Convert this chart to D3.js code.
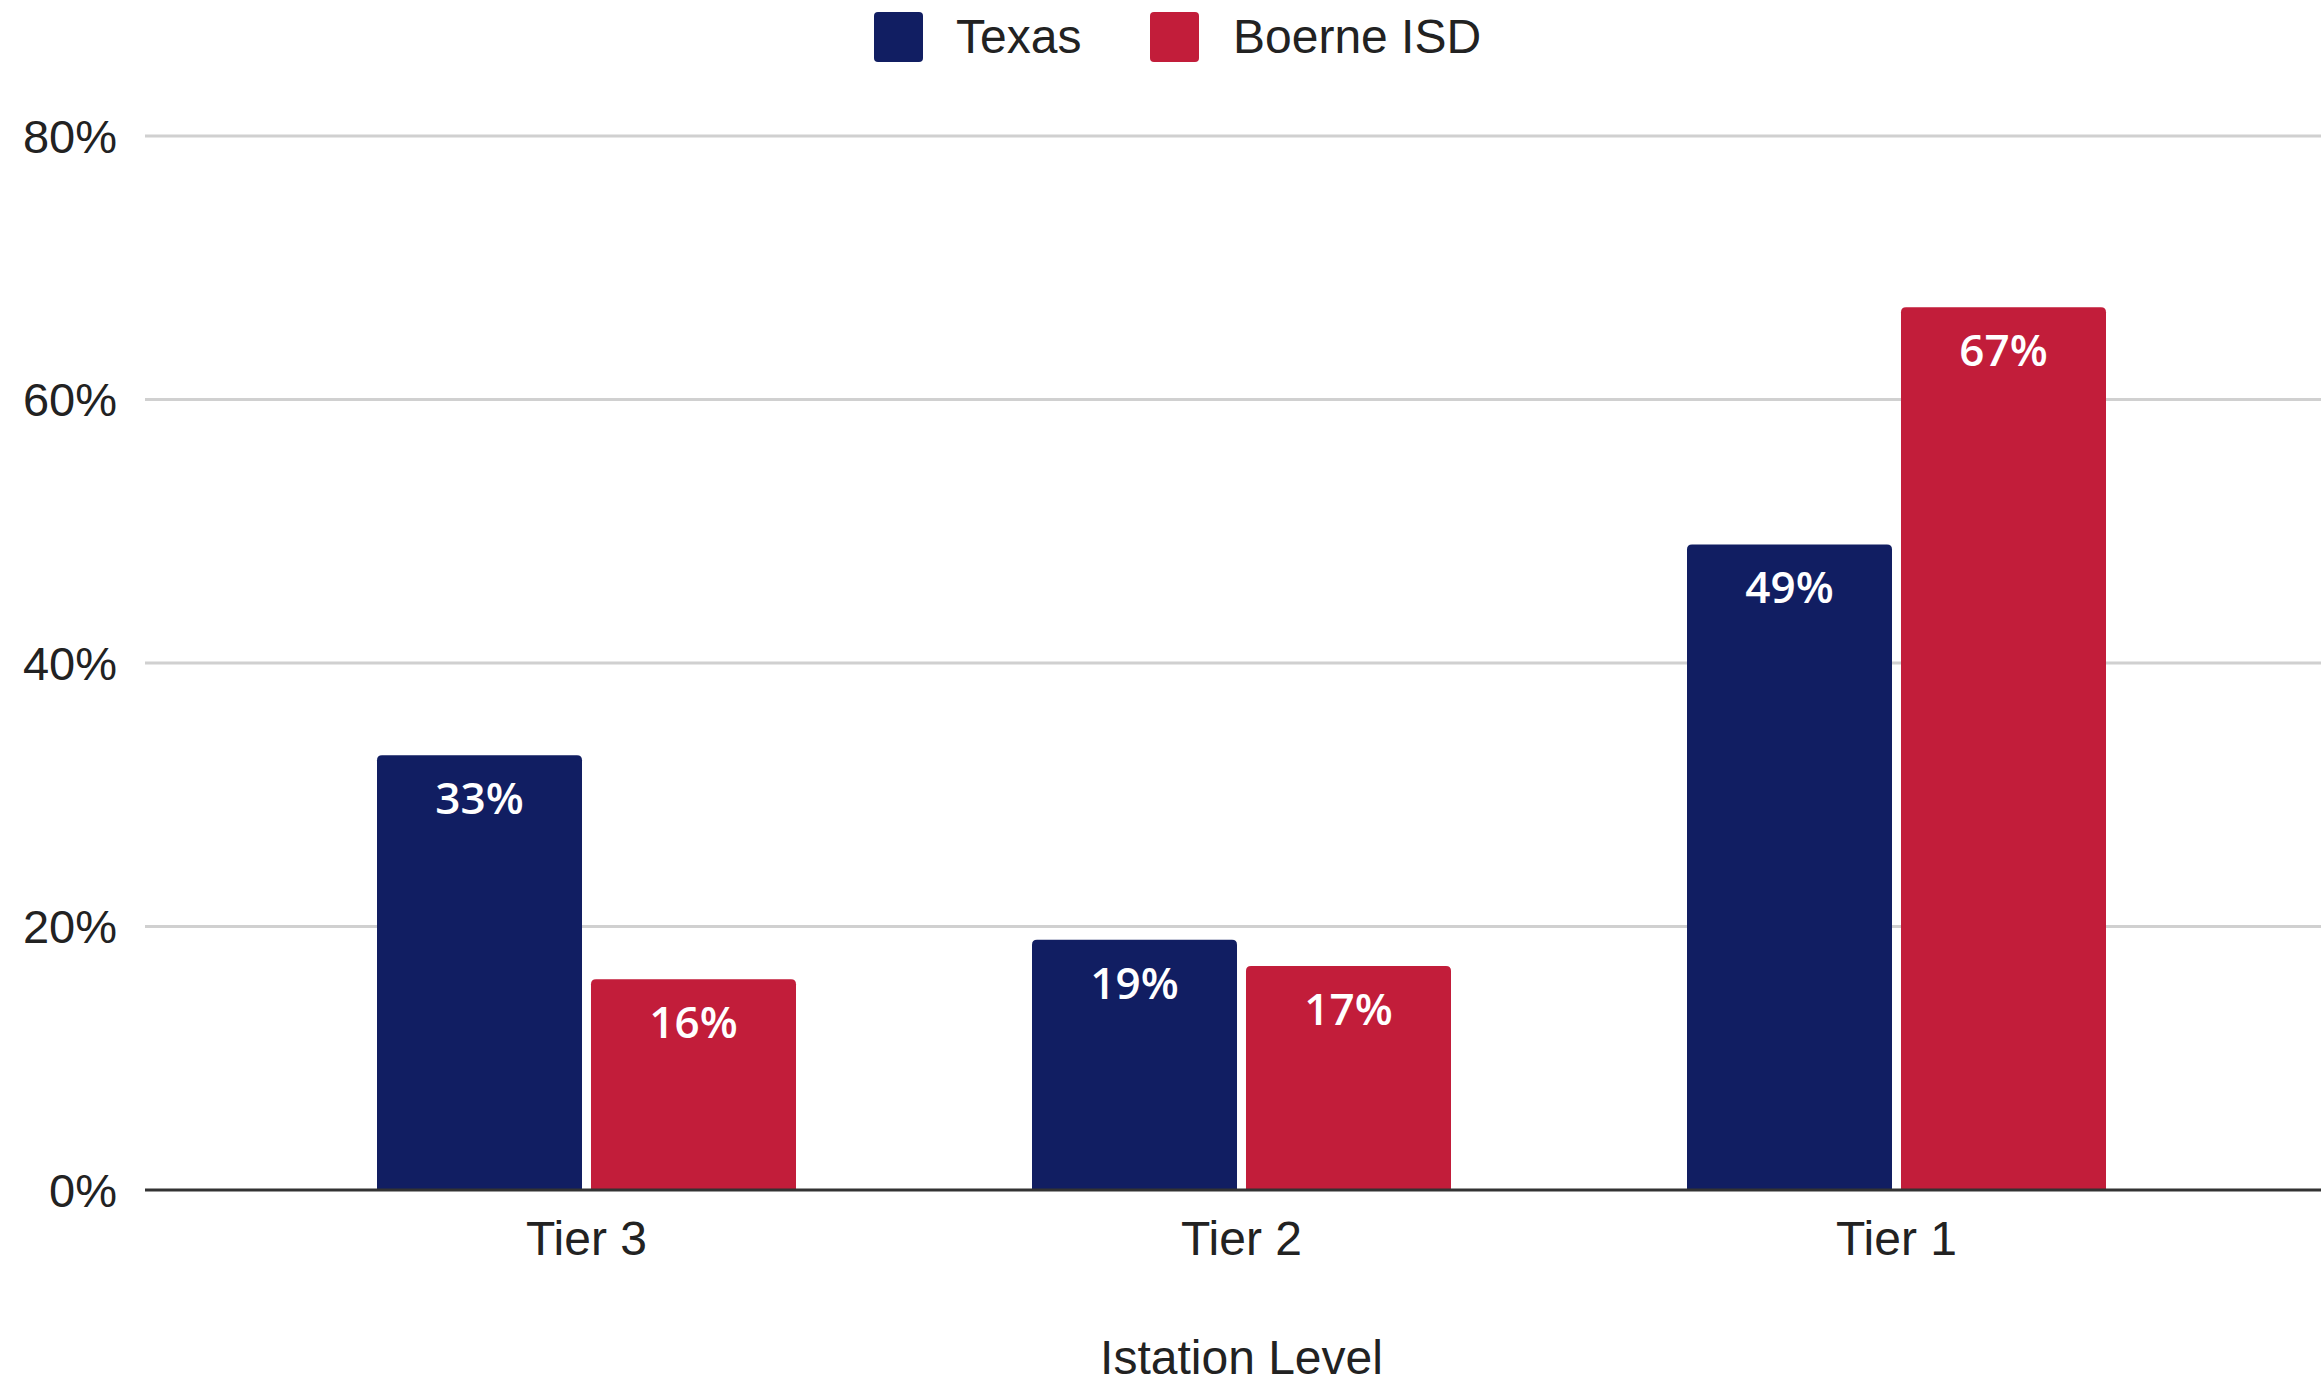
<!DOCTYPE html>
<html>
<head>
<meta charset="utf-8">
<script src="https://cdn.jsdelivr.net/npm/d3@7"></script>
<style>
  html, body { margin: 0; padding: 0; background: #ffffff; }
  svg { display: block; }
</style>
</head>
<body>
<svg id="chart" width="2321" height="1385"></svg>
<script>
// ---- data ----
const categories = ["Tier 3", "Tier 2", "Tier 1"];
const seriesNames = ["Texas", "Boerne ISD"];
const texasValues = [33, 19, 49];
const boerneValues = [16, 17, 67];
const yTicks = [0, 20, 40, 60, 80];
const seriesColors = ["#111e62", "#c21d3a"];
const xAxisTitle = "Istation Level";

const seriesValues = [texasValues, boerneValues];

const svg = d3.select("#chart");

const gridLeft = 145, gridRight = 2321;
const y = d3.scaleLinear().domain([0, 80]).range([1190, 136]);
const x0 = d3.scaleBand().domain(categories).range([259, 2224]).padding(0);
const groupW = 419;
const x1 = d3.scaleBand().domain(seriesNames).range([0, groupW]).paddingInner(0.042).paddingOuter(0);

const axisFont = "'Liberation Sans', Arial, sans-serif";
const labelFont = "'Open Sans', 'Noto Sans', sans-serif";

// gridlines
svg.append("g")
  .selectAll("line")
  .data(yTicks.filter(d => d !== 0))
  .join("line")
  .attr("x1", gridLeft).attr("x2", gridRight)
  .attr("y1", d => y(d)).attr("y2", d => y(d))
  .attr("stroke", "#d0d0d0")
  .attr("stroke-width", 3);

// y tick labels
svg.append("g")
  .selectAll("text")
  .data(yTicks)
  .join("text")
  .attr("x", 117)
  .attr("y", d => y(d))
  .attr("dy", "0.36em")
  .attr("text-anchor", "end")
  .attr("font-family", axisFont)
  .attr("font-size", 47)
  .attr("fill", "#222")
  .text(d => d + "%");

// bars
function topRoundedRect(x, yTop, w, h, r) {
  r = Math.min(r, h, w / 2);
  return `M${x},${yTop + h}V${yTop + r}Q${x},${yTop} ${x + r},${yTop}H${x + w - r}Q${x + w},${yTop} ${x + w},${yTop + r}V${yTop + h}Z`;
}

const barData = [];
categories.forEach((c, i) => {
  seriesNames.forEach((s, j) => {
    barData.push({ cat: c, series: s, value: seriesValues[j][i], color: seriesColors[j] });
  });
});

const groupOffset = (x0.bandwidth() - groupW) / 2;

svg.append("g")
  .selectAll("path")
  .data(barData)
  .join("path")
  .attr("d", d => {
    const bx = x0(d.cat) + groupOffset + x1(d.series);
    return topRoundedRect(bx, y(d.value), x1.bandwidth(), y(0) - y(d.value), 5);
  })
  .attr("fill", d => d.color);

// bar value labels
svg.append("g")
  .selectAll("text")
  .data(barData)
  .join("text")
  .attr("x", d => x0(d.cat) + groupOffset + x1(d.series) + x1.bandwidth() / 2)
  .attr("y", d => y(d.value) + 59)
  .attr("text-anchor", "middle")
  .attr("font-family", labelFont)
  .attr("font-weight", 600)
  .attr("font-size", 44)
  .attr("fill", "#ffffff")
  .text(d => d.value + "%");

// baseline
svg.append("line")
  .attr("x1", gridLeft).attr("x2", gridRight)
  .attr("y1", y(0)).attr("y2", y(0))
  .attr("stroke", "#333")
  .attr("stroke-width", 3);

// x tick labels
svg.append("g")
  .selectAll("text")
  .data(categories)
  .join("text")
  .attr("x", d => x0(d) + x0.bandwidth() / 2)
  .attr("y", 1255)
  .attr("text-anchor", "middle")
  .attr("font-family", axisFont)
  .attr("font-size", 48)
  .attr("fill", "#222")
  .text(d => d);

// x axis title
svg.append("text")
  .attr("x", x0("Tier 2") + x0.bandwidth() / 2)
  .attr("y", 1374)
  .attr("text-anchor", "middle")
  .attr("font-family", axisFont)
  .attr("font-size", 48)
  .attr("fill", "#222")
  .text(xAxisTitle);

// legend
const legendItems = [
  { name: seriesNames[0], color: seriesColors[0], sx: 874, tx: 956 },
  { name: seriesNames[1], color: seriesColors[1], sx: 1150, tx: 1233 }
];
const lg = svg.append("g");
lg.selectAll("rect")
  .data(legendItems)
  .join("rect")
  .attr("x", d => d.sx).attr("y", 12)
  .attr("width", 49).attr("height", 50)
  .attr("rx", 4)
  .attr("fill", d => d.color);
lg.selectAll("text")
  .data(legendItems)
  .join("text")
  .attr("x", d => d.tx).attr("y", 53)
  .attr("font-family", axisFont)
  .attr("font-size", 48)
  .attr("fill", "#222")
  .text(d => d.name);
</script>
</body>
</html>
